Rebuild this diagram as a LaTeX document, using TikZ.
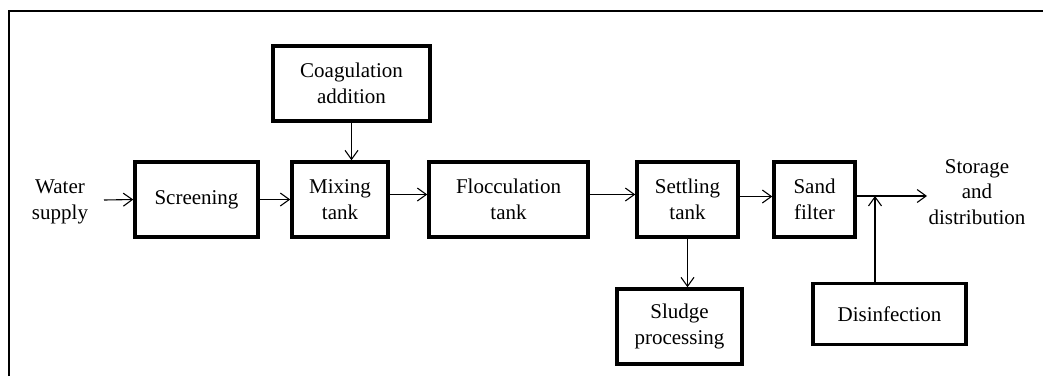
\documentclass[tikz,border=0pt]{standalone}
\usepackage{fontspec}
\setmainfont{Liberation Serif}
\usetikzlibrary{arrows.meta,calc}
\begin{document}
\begin{tikzpicture}[x=1pt,y=-1pt,
  every node/.style={font=\fontsize{21}{25.5}\selectfont, align=center, inner sep=0pt},
  procbox/.style={draw, line width=3.5pt, minimum height=75pt},
  flow/.style={line width=1.1pt, -{Straight Barb[length=9pt,width=13pt,line width=1.1pt]}},
  frame/.style={line width=2.5pt}]
\useasboundingbox (0,0) rectangle (1043,376);
\draw[frame] (9,376) -- (9,11) -- (1043,11);
\node[procbox, minimum width=157pt] (coag) at (351.5,83.5) {Coagulation\\addition};
\node[procbox, minimum width=123pt] (screen) at (196.5,199.5) {Screening};
\node[procbox, minimum width=96pt] (mix) at (340,199.5) {Mixing\\tank};
\node[procbox, minimum width=159pt] (floc) at (508.5,199.5) {Flocculation\\tank};
\node[procbox, minimum width=101pt] (settle) at (687.5,199.5) {Settling\\tank};
\node[procbox, minimum width=81pt] (sand) at (814.5,199.5) {Sand\\filter};
\node[procbox, minimum width=125pt] (sludge) at (679.5,326.5) {Sludge\\processing};
\node[procbox, minimum width=153pt, minimum height=61pt] (disinf) at (889.5,314) {Disinfection};
\node (water) at (60,202) {Water\\supply};
\node (storage) at (977,192) {Storage\\and\\distribution};
\coordinate (win) at (104,200);
\coordinate (j) at (875,196);
\coordinate (out) at (927,196);
\draw[flow] (win) -- (screen.west);
\draw[flow] (screen.east) -- (mix.west);
\draw[flow] ([yshift=5pt]mix.east) -- ([yshift=5pt]floc.west);
\draw[flow] ([yshift=5pt]floc.east) -- ([yshift=5pt]settle.west);
\draw[flow] ([yshift=3pt]settle.east) -- ([yshift=3pt]sand.west);
\draw[flow] (sand.east |- out) -- (out);
\draw[flow] (coag.south) -- (coag.south |- mix.north);
\draw[flow] (settle.south) -- (settle.south |- sludge.north);
\draw[flow] (j |- disinf.north) -- (j);
\end{tikzpicture}
\end{document}
